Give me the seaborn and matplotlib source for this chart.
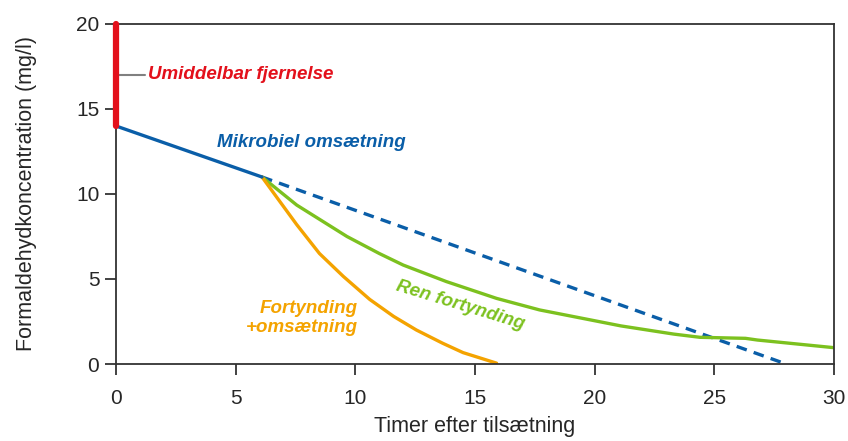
import numpy as np
import pandas as pd
import matplotlib
matplotlib.use("Agg")
import matplotlib.pyplot as plt
import seaborn as sns

# data
red_x = [0, 0]
red_y = [14, 20]

blue_x = [0, 6.1]
blue_y = [14, 11]

dash_x = [6.1, 27.8]
dash_y = [11, 0.1]

orange_x = [6.1, 6.85, 7.55, 8.5, 9.5, 10.6, 11.6, 12.55, 13.65, 14.5, 15.9]
orange_y = [11, 9.55, 8.2, 6.5, 5.15, 3.8, 2.8, 2.0, 1.22, 0.67, 0.05]

green_x = [6.1, 7.55, 9.65, 11.0, 12.0, 13.8, 15.9, 17.7, 19.8, 21.1, 23.3, 24.4, 26.3, 26.8, 30]
green_y = [11, 9.35, 7.5, 6.5, 5.82, 4.85, 3.86, 3.18, 2.6, 2.24, 1.76, 1.57, 1.51, 1.41, 0.96]

RED = "#e3101b"
BLUE = "#0a5ea8"
GREEN = "#7cc11f"
ORANGE = "#f4a300"

sns.set_style("ticks")
plt.rcParams["font.family"] = ["Liberation Sans", "DejaVu Sans"]

fig = plt.figure(figsize=(8.48, 4.41), dpi=100)
ax = fig.add_axes([0.1368, 0.1746, 0.8467, 0.771])

sns.lineplot(x=dash_x, y=dash_y, ax=ax, color=BLUE, lw=2.4, linestyle=(0, (3.2, 2.2)))
sns.lineplot(x=green_x, y=green_y, ax=ax, color=GREEN, lw=2.4)
sns.lineplot(x=orange_x, y=orange_y, ax=ax, color=ORANGE, lw=2.4)
sns.lineplot(x=blue_x, y=blue_y, ax=ax, color=BLUE, lw=2.4)
ax.plot(red_x, red_y, color=RED, lw=4.5, solid_capstyle="round", clip_on=False, zorder=5)
ax.plot([0, 1.2], [17, 17], color="#808080", lw=1.5)

ax.set_xlim(0, 30)
ax.set_ylim(0, 20)
ax.set_xticks([0, 5, 10, 15, 20, 25, 30])
ax.set_yticks([0, 5, 10, 15, 20])
for s in ax.spines.values():
    s.set_color("#333333")
    s.set_linewidth(1.3)
ax.tick_params(axis="both", length=8, width=1.3, color="#333333", labelsize=15, pad=4)
ax.tick_params(axis="x", pad=10)

ax.set_xlabel("Timer efter tilsætning", fontsize=15.5, labelpad=6)
ax.set_ylabel("Formaldehydkoncentration (mg/l)", fontsize=15.5, labelpad=28)

tk = dict(fontsize=13.5, fontweight="bold", fontstyle="italic")
ax.text(1.35, 17, "Umiddelbar fjernelse", color=RED, va="center", ha="left", **tk)
ax.text(4.2, 13.05, "Mikrobiel omsætning", color=BLUE, va="center", ha="left", **tk)
ax.text(14.4, 3.45, "Ren fortynding", color=GREEN, va="center", ha="center", rotation=-17, **tk)
ax.text(10.1, 2.7, "Fortynding\n+omsætning", color=ORANGE, va="center", ha="right",
        linespacing=1.2, **tk)

fig.savefig("out.png", dpi=100)
